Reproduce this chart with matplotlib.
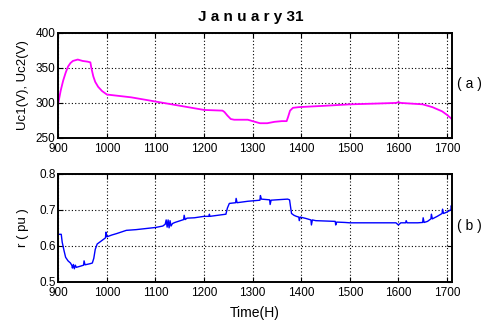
import matplotlib
matplotlib.use("Agg")
import matplotlib.pyplot as plt

# ---------------------------------------------------------------------------
# Data
# ---------------------------------------------------------------------------
uc_t = [900, 905, 910, 915, 920, 925, 930, 940, 950, 960,
        966, 968, 972, 976, 982, 990, 1000, 1050, 1100, 1150,
        1200, 1238, 1242, 1248, 1255, 1262, 1290, 1300, 1315, 1330,
        1345, 1360, 1370, 1373, 1377, 1383, 1395, 1450, 1500, 1550,
        1595, 1600, 1605, 1650, 1670, 1690, 1700, 1710]
uc_v = [300, 318, 332, 343, 352, 357, 360, 362, 360, 359,
        358, 350, 338, 330, 323, 317, 312, 308, 302, 296,
        290, 289, 287, 282, 277, 276, 276, 274, 271, 271,
        273, 274, 274, 280, 289, 293, 294, 296, 298, 299,
        300, 301, 300, 298, 294, 288, 283, 277]

r_t = [900, 906, 908, 912, 915, 920, 925, 928, 929, 931,
       933, 935, 937, 945, 952, 953, 955, 965, 970, 973,
       976, 980, 990, 997, 998, 1000, 1010, 1020, 1040, 1060,
       1080, 1100, 1115, 1120, 1122, 1124, 1126, 1128, 1130, 1132,
       1135, 1140, 1158, 1159, 1161, 1165, 1180, 1200, 1210, 1211,
       1212, 1245, 1248, 1252, 1265, 1266, 1268, 1290, 1315, 1316,
       1318, 1335, 1336, 1338, 1360, 1372, 1376, 1380, 1385, 1390,
       1395, 1396, 1398, 1410, 1420, 1421, 1423, 1430, 1470, 1471,
       1473, 1490, 1500, 1550, 1595, 1600, 1605, 1615, 1616, 1618,
       1640, 1650, 1651, 1653, 1660, 1667, 1668, 1670, 1680, 1690,
       1691, 1693, 1700, 1705, 1708, 1709, 1710]
r_v = [0.632, 0.632, 0.61, 0.585, 0.568, 0.558, 0.552, 0.545, 0.538, 0.548,
       0.536, 0.546, 0.54, 0.543, 0.546, 0.558, 0.547, 0.55, 0.552, 0.565,
       0.59, 0.605, 0.615, 0.622, 0.638, 0.625, 0.63, 0.634, 0.643, 0.645,
       0.648, 0.651, 0.655, 0.66, 0.672, 0.652, 0.672, 0.65, 0.67, 0.655,
       0.662, 0.665, 0.673, 0.685, 0.673, 0.677, 0.678, 0.682, 0.682, 0.688,
       0.682, 0.688, 0.705, 0.718, 0.72, 0.732, 0.72, 0.724, 0.727, 0.74,
       0.73, 0.728, 0.715, 0.727, 0.729, 0.73, 0.728, 0.69, 0.685, 0.682,
       0.68, 0.67, 0.68, 0.676, 0.672, 0.658, 0.672, 0.67, 0.668, 0.658,
       0.666, 0.665, 0.664, 0.664, 0.664, 0.658, 0.664, 0.664, 0.67, 0.664,
       0.664, 0.665, 0.678, 0.665, 0.668, 0.675, 0.688, 0.675, 0.682, 0.69,
       0.702, 0.69, 0.694, 0.698, 0.7, 0.712, 0.704]

x_ticks = [900, 1000, 1100, 1200, 1300, 1400, 1500, 1600, 1700]
uc_ticks = [250, 300, 350, 400]
r_ticks = [0.5, 0.6, 0.7, 0.8]

plt.rcParams.update({
    "font.family": ["Liberation Sans", "DejaVu Sans"],
    "font.size": 8.5,
    "axes.linewidth": 1.4,
    "xtick.direction": "in",
    "ytick.direction": "in",
    "xtick.top": True,
    "ytick.right": True,
    "xtick.major.size": 3.5,
    "ytick.major.size": 3.5,
})


def style_axes(ax, yticks):
    ax.set_xlim(900, 1710)
    ax.set_xticks(x_ticks)
    ax.set_ylim(yticks[0], yticks[-1])
    ax.set_yticks(yticks)
    ax.grid(True, color="black", linestyle=(0, (1, 2)), linewidth=0.8)
    ax.tick_params(axis="x", labelsize=8.5, pad=4)
    ax.tick_params(axis="y", labelsize=8.5, pad=2)


fig = plt.figure(figsize=(4.84, 3.2), dpi=100)
ax1 = fig.add_axes([0.1205, 0.569, 0.813, 0.328])
ax2 = fig.add_axes([0.1205, 0.1197, 0.813, 0.3366])

ax1.plot(uc_t, uc_v, color="#ff00ff", linewidth=1.3)
style_axes(ax1, uc_ticks)
ax1.set_ylabel("Uc1(V), Uc2(V)", fontsize=9.5)
ax1.yaxis.set_label_coords(-0.074, 0.5)

ax2.plot(r_t, r_v, color="#0000ff", linewidth=1.0)
style_axes(ax2, r_ticks)
ax2.set_yticklabels(["0.5", "0.6", "0.7", "0.8"])
ax2.set_ylabel("r ( pu )", fontsize=9.5)
ax2.yaxis.set_label_coords(-0.074, 0.5)
ax2.set_xlabel("Time(H)", fontsize=10)
ax2.xaxis.set_label_coords(0.5, -0.23)

fig.text(0.519, 0.947, "J a n u a r y 31", ha="center", va="center",
         fontsize=11, fontweight="bold")
fig.text(0.969, 0.7375, "( a )", ha="center", va="center", fontsize=10)
fig.text(0.969, 0.294, "( b )", ha="center", va="center", fontsize=10)

fig.savefig("out.png", dpi=100)
